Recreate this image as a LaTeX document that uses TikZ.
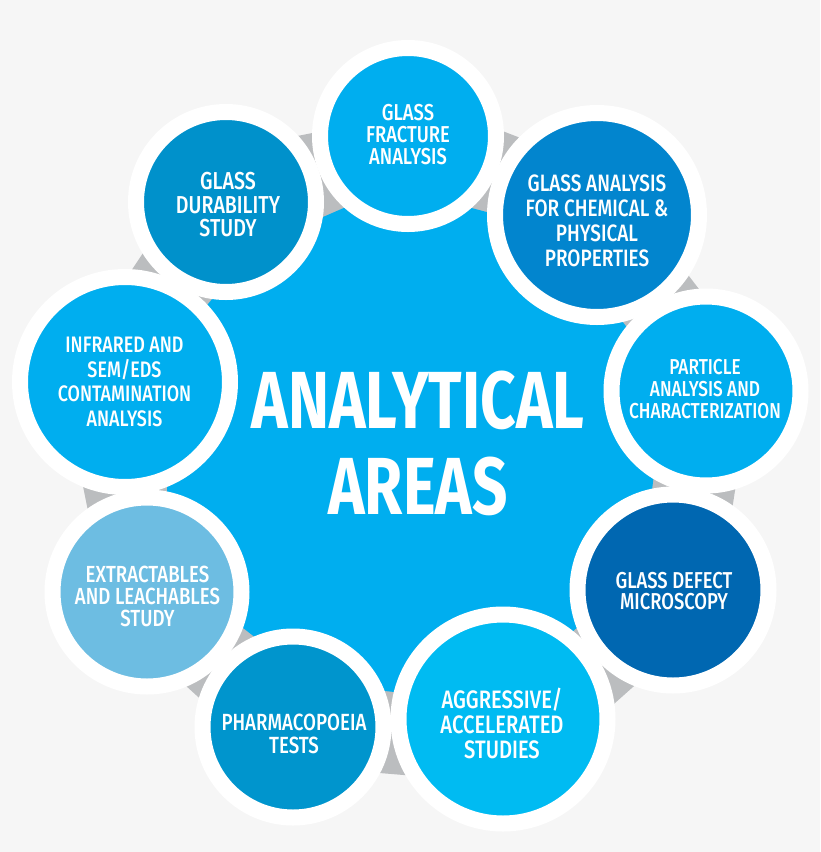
\documentclass[tikz,border=0pt]{standalone}
\usepackage{fontspec}
\setmainfont{Fira Sans Medium}[FakeStretch=0.8]
\newfontfamily\titlefont{Fira Sans}[FakeStretch=0.765,BoldFont={Fira Sans Bold}]

\definecolor{pagegray}{HTML}{F6F6F6}
\definecolor{bandgray}{HTML}{BBBDBF}
\definecolor{mainblue}{HTML}{00AEEF}
\definecolor{midblue}{HTML}{0285CE}
\definecolor{deepblue}{HTML}{0067B1}
\definecolor{brightblue}{HTML}{00BBF2}
\definecolor{seablue}{HTML}{0095CD}
\definecolor{paleblue}{HTML}{6DBDE2}
\definecolor{duskblue}{HTML}{0091CB}

\tikzset{
  area/.style={circle, draw=white, line width=16pt, inner sep=0pt},
  areatext/.style={text=white, align=center, inner sep=0pt},
}

\begin{document}
\begin{tikzpicture}[x=1pt, y=-1pt]
        \useasboundingbox (0,0) rectangle (820,852);
        \fill[pagegray] (0,0) rectangle (820,852);

        % ring behind the circles, then the middle
        \fill[bandgray] (440,107) -- (609,172) -- (755,362) -- (716,613) -- (523,785)
          -- (272,764) -- (109,616) -- (61,376) -- (209,154) -- cycle;
        \fill[mainblue] (392,187) -- (551,229) -- (666,378) -- (642,570) -- (492,703)
          -- (314,683) -- (167,569) -- (167,355) -- (254,247) -- cycle;

        \node [area, fill=mainblue, minimum size=176pt] (fracture) at (408,136) {};
        \node [area, fill=midblue, minimum size=204pt] (chemical) at (597,215) {};
        \node [area, fill=mainblue, minimum size=189pt] (particle) at (706,391) {};
        \node [area, fill=deepblue, minimum size=191pt] (defect) at (673,590) {};
        \node [area, fill=brightblue, minimum size=209pt] (aggressive) at (503,719) {};
        \node [area, fill=seablue, minimum size=181pt] (pharma) at (293,727) {};
        \node [area, fill=paleblue, minimum size=189pt] (extract) at (147,592) {};
        \node [area, fill=mainblue, minimum size=210pt] (infrared) at (125,382) {};
        \node [area, fill=duskblue, minimum size=180pt] (durability) at (226,202) {};

        \node [areatext, font=\fontsize{23}{22}\selectfont] (fracturetext) at (408,135)
          {GLASS\\FRACTURE\\ANALYSIS};
        \node [areatext, font=\fontsize{23.7}{25}\selectfont] (chemicaltext) at (597,220.5)
          {GLASS ANALYSIS\\FOR CHEMICAL \&\\PHYSICAL\\PROPERTIES};
        \node [areatext, font=\fontsize{21.6}{22}\selectfont] (particletext) at (705,389)
          {PARTICLE\\ANALYSIS AND\\CHARACTERIZATION};
        \node [areatext, font=\fontsize{23}{21}\selectfont] (defecttext) at (674,591)
          {GLASS DEFECT\\MICROSCOPY};
        \node [areatext, font=\fontsize{25.2}{25}\selectfont] (aggressivetext) at (502,723)
          {AGGRESSIVE/\\ACCELERATED\\STUDIES};
        \node [areatext, font=\fontsize{23.4}{23}\selectfont] (pharmatext) at (294,733.5)
          {PHARMACOPOEIA\\TESTS};
        \node [areatext, font=\fontsize{23.3}{22}\selectfont] (extracttext) at (147.5,596)
          {EXTRACTABLES\\AND LEACHABLES\\STUDY};
        \node [areatext, font=\fontsize{22.4}{24.5}\selectfont] (infraredtext) at (124.5,382)
          {INFRARED AND\\SEM/EDS\\CONTAMINATION\\ANALYSIS};
        \node [areatext, font=\fontsize{24.5}{23.5}\selectfont] (durabilitytext) at (228,205)
          {GLASS\\DURABILITY\\STUDY};

        \node [areatext, font=\titlefont\bfseries\fontsize{81}{86}\selectfont] (title) at (418,443.5)
          {ANALYTICAL\\AREAS};
      \end{tikzpicture}
\end{document}
